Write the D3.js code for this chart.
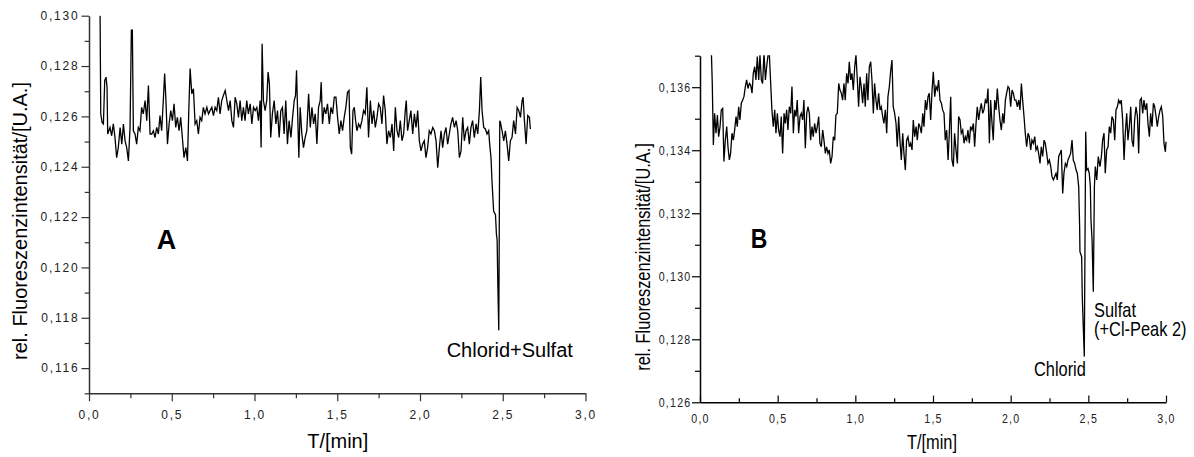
<!DOCTYPE html>
<html>
<head>
<meta charset="utf-8">
<script src="https://cdn.jsdelivr.net/npm/d3@7"></script>
<style>
  body { margin: 0; background: #fff; }
  svg { display: block; }
</style>
</head>
<body>
<div id="chart"></div>
<script>
// tick values (both panels share the time axis)
const xTicks = [0, 0.5, 1.0, 1.5, 2.0, 2.5, 3.0];
const xMinor = [0.25, 0.75, 1.25, 1.75, 2.25, 2.75];
const yTicksA = [0.116, 0.118, 0.120, 0.122, 0.124, 0.126, 0.128, 0.130];
const yMinorA = [0.115, 0.117, 0.119, 0.121, 0.123, 0.125, 0.127, 0.129];
const yTicksB = [0.126, 0.128, 0.130, 0.132, 0.134, 0.136];
const yMinorB = [0.127, 0.129, 0.131, 0.133, 0.135, 0.137];

// panel A: [T/min, rel. intensity]
const traceA = [
  [0.067,0.13000],[0.071,0.12610],[0.079,0.12576],[0.087,0.12570],[0.095,0.12743],[0.103,0.12756],[0.109,0.12716],[0.113,0.12530],
  [0.127,0.12556],[0.137,0.12523],[0.147,0.12570],[0.157,0.12516],[0.167,0.12436],[0.177,0.12476],[0.188,0.12556],[0.198,0.12490],
  [0.208,0.12570],[0.218,0.12503],[0.228,0.12476],[0.238,0.12423],[0.248,0.12556],[0.256,0.12943],[0.262,0.12943],[0.268,0.12543],
  [0.278,0.12530],[0.288,0.12490],[0.298,0.12556],[0.308,0.12543],[0.318,0.12636],[0.328,0.12610],[0.339,0.12663],[0.349,0.12583],
  [0.359,0.12723],[0.369,0.12530],[0.379,0.12530],[0.389,0.12543],[0.399,0.12516],[0.409,0.12556],[0.419,0.12530],[0.429,0.12603],
  [0.439,0.12543],[0.449,0.12663],[0.457,0.12770],[0.465,0.12663],[0.474,0.12490],[0.484,0.12570],[0.494,0.12623],[0.504,0.12583],
  [0.514,0.12650],[0.524,0.12556],[0.534,0.12596],[0.544,0.12543],[0.554,0.12596],[0.564,0.12516],[0.574,0.12436],[0.585,0.12476],
  [0.595,0.12423],[0.603,0.12623],[0.611,0.12790],[0.621,0.12690],[0.631,0.12710],[0.641,0.12570],[0.651,0.12583],[0.661,0.12530],
  [0.671,0.12596],[0.681,0.12583],[0.691,0.12636],[0.701,0.12610],[0.712,0.12636],[0.722,0.12610],[0.732,0.12623],[0.742,0.12636],
  [0.752,0.12603],[0.762,0.12636],[0.772,0.12623],[0.782,0.12676],[0.792,0.12610],[0.802,0.12663],[0.812,0.12683],[0.823,0.12703],
  [0.833,0.12663],[0.843,0.12623],[0.853,0.12663],[0.863,0.12583],[0.873,0.12556],[0.883,0.12676],[0.893,0.12650],[0.903,0.12596],
  [0.913,0.12663],[0.923,0.12583],[0.933,0.12636],[0.943,0.12583],[0.953,0.12663],[0.963,0.12610],[0.974,0.12650],[0.984,0.12570],
  [0.994,0.12636],[1.004,0.12623],[1.014,0.12636],[1.024,0.12583],[1.034,0.12663],[1.040,0.12476],[1.046,0.12889],[1.054,0.12663],
  [1.064,0.12623],[1.074,0.12663],[1.082,0.12776],[1.090,0.12730],[1.098,0.12516],[1.108,0.12610],[1.119,0.12663],[1.129,0.12570],
  [1.139,0.12623],[1.149,0.12516],[1.159,0.12623],[1.169,0.12636],[1.179,0.12530],[1.189,0.12663],[1.199,0.12490],[1.209,0.12583],
  [1.220,0.12516],[1.230,0.12596],[1.240,0.12663],[1.248,0.12683],[1.254,0.12783],[1.262,0.12583],[1.268,0.12436],[1.276,0.12636],
  [1.286,0.12530],[1.296,0.12476],[1.306,0.12516],[1.316,0.12543],[1.327,0.12690],[1.337,0.12556],[1.347,0.12636],[1.357,0.12570],
  [1.367,0.12610],[1.377,0.12490],[1.387,0.12636],[1.397,0.12663],[1.403,0.12736],[1.411,0.12570],[1.421,0.12636],[1.431,0.12610],
  [1.441,0.12650],[1.452,0.12570],[1.462,0.12636],[1.472,0.12610],[1.482,0.12676],[1.492,0.12676],[1.502,0.12596],[1.512,0.12530],
  [1.522,0.12583],[1.532,0.12543],[1.542,0.12596],[1.552,0.12636],[1.562,0.12696],[1.571,0.12703],[1.579,0.12476],[1.587,0.12450],
  [1.595,0.12623],[1.603,0.12636],[1.611,0.12583],[1.619,0.12543],[1.629,0.12570],[1.639,0.12556],[1.649,0.12583],[1.659,0.12623],
  [1.669,0.12610],[1.679,0.12716],[1.689,0.12516],[1.700,0.12663],[1.710,0.12570],[1.720,0.12623],[1.730,0.12556],[1.740,0.12596],
  [1.750,0.12650],[1.760,0.12636],[1.770,0.12570],[1.780,0.12683],[1.790,0.12623],[1.800,0.12490],[1.810,0.12543],[1.821,0.12516],
  [1.831,0.12570],[1.841,0.12463],[1.851,0.12636],[1.861,0.12543],[1.871,0.12516],[1.881,0.12583],[1.891,0.12503],[1.901,0.12530],
  [1.911,0.12623],[1.917,0.12663],[1.925,0.12543],[1.935,0.12583],[1.945,0.12623],[1.956,0.12530],[1.966,0.12610],[1.976,0.12556],
  [1.986,0.12623],[1.996,0.12503],[2.006,0.12463],[2.016,0.12490],[2.026,0.12503],[2.036,0.12436],[2.046,0.12476],[2.056,0.12543],
  [2.066,0.12530],[2.077,0.12556],[2.087,0.12543],[2.097,0.12503],[2.107,0.12396],[2.117,0.12476],[2.127,0.12543],[2.137,0.12476],
  [2.147,0.12530],[2.157,0.12556],[2.167,0.12490],[2.177,0.12530],[2.187,0.12570],[2.197,0.12596],[2.208,0.12556],[2.218,0.12583],
  [2.228,0.12543],[2.238,0.12436],[2.248,0.12463],[2.258,0.12596],[2.268,0.12503],[2.278,0.12543],[2.288,0.12556],[2.298,0.12490],
  [2.308,0.12556],[2.318,0.12583],[2.328,0.12516],[2.339,0.12570],[2.349,0.12530],[2.359,0.12623],[2.367,0.12756],[2.375,0.12623],
  [2.385,0.12556],[2.395,0.12550],[2.405,0.12530],[2.415,0.12543],[2.421,0.12490],[2.429,0.12436],[2.435,0.12343],[2.445,0.12223],
  [2.456,0.12210],[2.462,0.12130],[2.466,0.12110],[2.470,0.11943],[2.476,0.11750],[2.482,0.12583],[2.486,0.12576],[2.496,0.12543],
  [2.506,0.12503],[2.516,0.12543],[2.526,0.12490],[2.536,0.12423],[2.546,0.12503],[2.556,0.12516],[2.566,0.12583],[2.577,0.12530],
  [2.587,0.12636],[2.597,0.12623],[2.607,0.12596],[2.617,0.12663],[2.623,0.12676],[2.631,0.12583],[2.641,0.12490],[2.651,0.12603],
  [2.661,0.12596],[2.667,0.12550]
];

// panel B: [T/min, rel. intensity]
const traceB = [
  [0.071,0.13750],[0.079,0.13612],[0.086,0.13417],[0.094,0.13517],[0.103,0.13454],[0.112,0.13512],[0.120,0.13443],[0.129,0.13475],
  [0.137,0.13528],[0.146,0.13533],[0.154,0.13364],[0.163,0.13432],[0.172,0.13475],[0.180,0.13411],[0.189,0.13369],[0.197,0.13390],
  [0.206,0.13454],[0.215,0.13432],[0.223,0.13464],[0.232,0.13507],[0.240,0.13475],[0.249,0.13538],[0.257,0.13496],[0.266,0.13549],
  [0.275,0.13559],[0.283,0.13570],[0.292,0.13602],[0.300,0.13623],[0.309,0.13596],[0.318,0.13612],[0.326,0.13607],[0.335,0.13581],
  [0.343,0.13644],[0.352,0.13665],[0.360,0.13623],[0.369,0.13697],[0.378,0.13623],[0.386,0.13702],[0.395,0.13623],[0.403,0.13612],
  [0.412,0.13710],[0.421,0.13623],[0.429,0.13665],[0.438,0.13702],[0.446,0.13710],[0.455,0.13612],[0.463,0.13528],[0.472,0.13475],
  [0.481,0.13528],[0.489,0.13454],[0.498,0.13517],[0.506,0.13464],[0.515,0.13443],[0.523,0.13507],[0.532,0.13390],[0.541,0.13517],
  [0.549,0.13485],[0.558,0.13528],[0.566,0.13464],[0.575,0.13538],[0.584,0.13517],[0.592,0.13602],[0.601,0.13454],[0.609,0.13528],
  [0.618,0.13507],[0.626,0.13559],[0.635,0.13454],[0.644,0.13507],[0.652,0.13517],[0.661,0.13496],[0.669,0.13559],[0.678,0.13406],
  [0.687,0.13517],[0.695,0.13538],[0.704,0.13517],[0.712,0.13432],[0.721,0.13475],[0.729,0.13443],[0.738,0.13485],[0.747,0.13454],
  [0.755,0.13475],[0.764,0.13507],[0.772,0.13422],[0.781,0.13411],[0.790,0.13464],[0.798,0.13432],[0.807,0.13390],[0.815,0.13411],
  [0.824,0.13390],[0.832,0.13401],[0.841,0.13358],[0.850,0.13380],[0.858,0.13443],[0.867,0.13432],[0.875,0.13512],[0.884,0.13517],
  [0.893,0.13612],[0.901,0.13591],[0.910,0.13581],[0.918,0.13559],[0.927,0.13612],[0.935,0.13559],[0.944,0.13644],[0.953,0.13612],
  [0.961,0.13681],[0.970,0.13623],[0.978,0.13644],[0.987,0.13591],[0.996,0.13665],[1.004,0.13702],[1.013,0.13623],[1.021,0.13538],
  [1.030,0.13633],[1.038,0.13602],[1.047,0.13549],[1.056,0.13612],[1.064,0.13538],[1.073,0.13644],[1.081,0.13559],[1.090,0.13665],
  [1.099,0.13681],[1.107,0.13623],[1.116,0.13517],[1.124,0.13612],[1.133,0.13559],[1.141,0.13528],[1.150,0.13581],[1.159,0.13528],
  [1.167,0.13538],[1.176,0.13507],[1.184,0.13485],[1.193,0.13528],[1.202,0.13454],[1.210,0.13570],[1.219,0.13602],[1.227,0.13649],
  [1.236,0.13686],[1.244,0.13538],[1.253,0.13517],[1.262,0.13485],[1.270,0.13411],[1.279,0.13507],[1.287,0.13432],[1.296,0.13369],
  [1.305,0.13454],[1.313,0.13390],[1.322,0.13337],[1.330,0.13432],[1.339,0.13443],[1.348,0.13411],[1.356,0.13422],[1.365,0.13401],
  [1.373,0.13496],[1.382,0.13443],[1.391,0.13475],[1.399,0.13432],[1.408,0.13485],[1.416,0.13475],[1.425,0.13454],[1.434,0.13517],
  [1.442,0.13475],[1.451,0.13559],[1.459,0.13528],[1.468,0.13570],[1.476,0.13581],[1.485,0.13496],[1.494,0.13591],[1.502,0.13649],
  [1.511,0.13570],[1.519,0.13602],[1.528,0.13591],[1.536,0.13623],[1.545,0.13559],[1.554,0.13549],[1.562,0.13528],[1.571,0.13517],
  [1.579,0.13432],[1.588,0.13464],[1.597,0.13369],[1.605,0.13454],[1.614,0.13570],[1.622,0.13369],[1.631,0.13348],[1.639,0.13454],
  [1.648,0.13401],[1.657,0.13358],[1.665,0.13507],[1.674,0.13496],[1.682,0.13454],[1.691,0.13464],[1.700,0.13422],[1.708,0.13443],
  [1.717,0.13432],[1.725,0.13464],[1.734,0.13422],[1.742,0.13475],[1.751,0.13464],[1.760,0.13485],[1.768,0.13411],[1.777,0.13485],
  [1.785,0.13538],[1.794,0.13496],[1.803,0.13528],[1.811,0.13549],[1.820,0.13517],[1.828,0.13528],[1.837,0.13559],[1.846,0.13549],
  [1.854,0.13596],[1.863,0.13422],[1.871,0.13559],[1.880,0.13485],[1.888,0.13432],[1.897,0.13559],[1.906,0.13528],[1.914,0.13596],
  [1.923,0.13538],[1.931,0.13496],[1.940,0.13464],[1.949,0.13517],[1.957,0.13485],[1.966,0.13559],[1.974,0.13581],[1.983,0.13602],
  [1.991,0.13596],[2.000,0.13538],[2.009,0.13591],[2.017,0.13581],[2.026,0.13559],[2.034,0.13559],[2.043,0.13538],[2.052,0.13559],
  [2.060,0.13528],[2.069,0.13612],[2.077,0.13559],[2.086,0.13507],[2.094,0.13454],[2.103,0.13411],[2.112,0.13454],[2.120,0.13443],
  [2.129,0.13401],[2.137,0.13432],[2.146,0.13422],[2.155,0.13443],[2.163,0.13401],[2.172,0.13411],[2.180,0.13390],[2.189,0.13358],
  [2.197,0.13411],[2.206,0.13380],[2.215,0.13432],[2.223,0.13422],[2.232,0.13390],[2.240,0.13358],[2.249,0.13369],[2.258,0.13348],
  [2.266,0.13316],[2.275,0.13306],[2.283,0.13316],[2.292,0.13327],[2.300,0.13306],[2.309,0.13380],[2.318,0.13390],[2.326,0.13401],
  [2.335,0.13263],[2.343,0.13327],[2.352,0.13358],[2.361,0.13348],[2.369,0.13369],[2.378,0.13380],[2.386,0.13390],[2.395,0.13432],
  [2.403,0.13369],[2.412,0.13358],[2.421,0.13337],[2.429,0.13327],[2.438,0.13284],[2.444,0.13157],[2.446,0.13078],[2.457,0.13062],
  [2.461,0.12935],[2.474,0.12745],[2.483,0.13459],[2.489,0.13337],[2.498,0.13342],[2.506,0.13327],[2.513,0.13284],[2.517,0.13179],
  [2.524,0.13115],[2.532,0.12951],[2.539,0.13284],[2.545,0.13348],[2.554,0.13306],[2.564,0.13380],[2.575,0.13348],[2.584,0.13380],
  [2.592,0.13432],[2.601,0.13454],[2.609,0.13327],[2.618,0.13401],[2.627,0.13411],[2.635,0.13475],[2.644,0.13454],[2.652,0.13507],
  [2.661,0.13496],[2.670,0.13432],[2.678,0.13528],[2.687,0.13538],[2.695,0.13559],[2.704,0.13549],[2.712,0.13559],[2.721,0.13496],
  [2.730,0.13369],[2.738,0.13454],[2.747,0.13517],[2.755,0.13432],[2.764,0.13475],[2.773,0.13538],[2.781,0.13432],[2.790,0.13411],
  [2.798,0.13496],[2.807,0.13538],[2.816,0.13507],[2.824,0.13390],[2.833,0.13559],[2.841,0.13565],[2.850,0.13517],[2.858,0.13559],
  [2.867,0.13528],[2.876,0.13549],[2.884,0.13485],[2.893,0.13443],[2.901,0.13517],[2.910,0.13475],[2.919,0.13549],[2.927,0.13538],
  [2.936,0.13507],[2.944,0.13475],[2.953,0.13507],[2.962,0.13528],[2.970,0.13538],[2.979,0.13507],[2.987,0.13422],[2.996,0.13395],
  [3.000,0.13427]
];

const de = d3.formatLocale({ decimal: ",", thousands: ".", grouping: [3], currency: ["", " €"] });
const fmtY = de.format(".3f");
const fmtX = de.format(".1f");

const svg = d3.select("#chart").append("svg")
  .attr("width", 1194)
  .attr("height", 457);

const FONT = "'Liberation Sans', Arial, sans-serif";

// panel B was typeset in a condensed face; no narrow font is installed,
// so squeeze the glyphs horizontally instead
function squeezeTicks(sel, sx) {
  if (sx === 1) return;
  sel.selectAll(".tick text").each(function () {
    const t = d3.select(this);
    const tx = +t.attr("x") || 0, ty = +t.attr("y") || 0;
    t.attr("x", 0).attr("y", 0)
      .attr("transform", `translate(${tx},${ty}) scale(${sx},1)`);
  });
}

function addText(g, x, y, txt, opts) {
  const rot = opts.rotate ? " rotate(-90)" : "";
  return g.append("text")
    .attr("transform", `translate(${x},${y})${rot} scale(${opts.sx},1)`)
    .attr("text-anchor", opts.anchor || "start")
    .style("font-family", FONT)
    .style("font-size", (opts.size || 20) + "px")
    .style("font-weight", opts.bold ? "bold" : "normal")
    .text(txt);
}

function drawPanel(o) {
  const g = svg.append("g");
  const x = d3.scaleLinear().domain([0, 3]).range(o.xRange);
  const y = d3.scaleLinear().domain(o.yDomain).range(o.yRange);

  // clip so the trace is cut at the top of the frame, like the original
  g.append("clipPath").attr("id", o.id + "-clip")
    .append("rect")
    .attr("x", o.xRange[0]).attr("y", o.yRange[1] - 0.5)
    .attr("width", o.xRange[1] - o.xRange[0] + 2)
    .attr("height", o.yRange[0] - o.yRange[1] + 0.5);

  g.append("path")
    .datum(o.data)
    .attr("clip-path", `url(#${o.id}-clip)`)
    .attr("fill", "none")
    .attr("stroke", "#000")
    .attr("stroke-width", 1.3)
    .attr("d", d3.line().x(d => x(d[0])).y(d => y(d[1])));

  // minor ticks first, then the major axes on top
  g.append("g")
    .attr("transform", `translate(0,${o.yRange[0]})`)
    .call(d3.axisBottom(x).tickValues(xMinor).tickSize(o.xMinorLen).tickSizeOuter(0).tickFormat(""))
    .call(a => a.select(".domain").remove());
  g.append("g")
    .attr("transform", `translate(${o.xRange[0]},0)`)
    .call(d3.axisLeft(y).tickValues(o.yMinor).tickSize(o.yMinorLen).tickSizeOuter(0).tickFormat(""))
    .call(a => a.select(".domain").remove());

  const xAxis = g.append("g")
    .attr("transform", `translate(0,${o.yRange[0]})`)
    .call(d3.axisBottom(x).tickValues(xTicks).tickSize(o.xMajorLen).tickSizeOuter(0)
      .tickPadding(o.xPad).tickFormat(fmtX));
  const yAxis = g.append("g")
    .attr("transform", `translate(${o.xRange[0]},0)`)
    .call(d3.axisLeft(y).tickValues(o.yTicks).tickSize(o.yMajorLen).tickSizeOuter(0)
      .tickPadding(o.yPad).tickFormat(fmtY));

  g.selectAll(".domain").attr("stroke", o.axisColor).attr("stroke-width", 1.5);
  g.selectAll(".tick line").attr("stroke", o.axisColor).attr("stroke-width", 1.2);
  g.selectAll(".tick text")
    .attr("fill", "#222")
    .style("font-family", FONT)
    .style("font-size", o.tickFont + "px")
    .style("letter-spacing", o.tickSpacing + "px");
  squeezeTicks(xAxis, o.sx);
  squeezeTicks(yAxis, o.sx);

  // axis titles
  addText(g, (o.xRange[0] + o.xRange[1]) / 2 + o.xTitleShift, o.xTitleY, "T/[min]",
    { sx: o.sx, anchor: "middle" });
  addText(g, o.yTitleX, o.yTitleY, "rel. Fluoreszenzintensität/[U.A.]",
    { sx: o.sx, anchor: "middle", rotate: true });

  // panel letter and peak annotations, anchored in data units
  o.notes.forEach(n => {
    addText(g, x(n.t), y(n.v), n.text, { sx: o.sx, size: n.size, bold: n.bold });
  });
}

drawPanel({
  id: "a",
  data: traceA,
  xRange: [89, 585.5],
  yDomain: [0.115, 0.130],
  yRange: [393.3, 15.7],
  yTicks: yTicksA,
  yMinor: yMinorA,
  xMajorLen: 8, xMinorLen: 5,
  yMajorLen: 7.5, yMinorLen: 4.3,
  xPad: 9, yPad: 2,
  axisColor: "#333",
  sx: 1,
  tickFont: 12, tickSpacing: 1.8,
  xTitleShift: 0.5, xTitleY: 448,
  yTitleX: 27, yTitleY: 221,
  notes: [
    { text: "A", t: 0.409, v: 0.12073, size: 27, bold: true },
    { text: "Chlorid+Sulfat", t: 2.161, v: 0.11644 }
  ]
});

drawPanel({
  id: "b",
  data: traceB,
  xRange: [700, 1166],
  yDomain: [0.126, 0.137],
  yRange: [402.3, 55.7],
  yTicks: yTicksB,
  yMinor: yMinorB,
  xMajorLen: -6.7, xMinorLen: -4,
  yMajorLen: 8, yMinorLen: 5,
  xPad: 11, yPad: 0.5,
  axisColor: "#000",
  sx: 0.82,
  tickFont: 13, tickSpacing: 1.5,
  xTitleShift: -1, xTitleY: 449,
  yTitleX: 650, yTitleY: 257,
  notes: [
    { text: "B", t: 0.326, v: 0.13090, size: 28, bold: true },
    { text: "Chlorid", t: 2.150, v: 0.12683 },
    { text: "Sulfat", t: 2.537, v: 0.12871 },
    { text: "(+Cl-Peak 2)", t: 2.537, v: 0.12811 }
  ]
});
</script>
</body>
</html>
